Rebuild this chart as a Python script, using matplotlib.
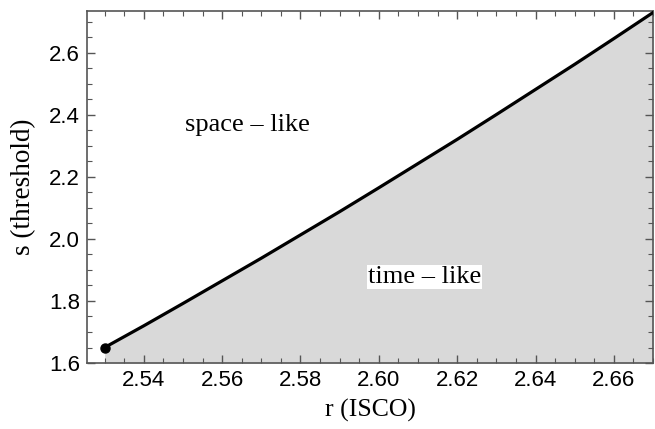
import matplotlib.pyplot as plt
from matplotlib.ticker import MultipleLocator

# ISCO radius vs threshold spin
r_isco = [2.53, 2.54, 2.55, 2.56, 2.57, 2.58, 2.59, 2.60,
          2.61, 2.62, 2.63, 2.64, 2.65, 2.66, 2.67]
s_threshold = [1.650, 1.720, 1.792, 1.865, 1.938, 2.013, 2.088, 2.165,
               2.243, 2.321, 2.401, 2.482, 2.563, 2.646, 2.730]

region_labels = ['space \u2013 like', 'time \u2013 like']
region_pos = [(2.5665, 2.368), (2.6116, 1.877)]

fig = plt.figure(figsize=(6.55, 4.29), dpi=100)
ax = fig.add_axes([0.1328, 0.1538, 0.8642, 0.8206])

ax.fill_between(r_isco, s_threshold, 1.6, color='#d9d9d9', lw=0, zorder=1)
ax.plot(r_isco, s_threshold, color='black', lw=2.3, zorder=3)
ax.plot(r_isco[0], s_threshold[0], 'o', color='black', ms=6.5, zorder=4)

ax.set_xlim(2.5255, 2.67)
ax.set_ylim(1.6, 2.735)

ax.xaxis.set_major_locator(MultipleLocator(0.02))
ax.xaxis.set_minor_locator(MultipleLocator(0.005))
ax.yaxis.set_major_locator(MultipleLocator(0.2))
ax.yaxis.set_minor_locator(MultipleLocator(0.05))
ax.xaxis.set_major_formatter(plt.FuncFormatter(lambda v, p: f'{v:.2f}'))
ax.yaxis.set_major_formatter(plt.FuncFormatter(lambda v, p: f'{v:.1f}'))

ax.tick_params(which='both', direction='in', top=True, right=True,
               color='#555555', labelsize=16, labelcolor='black', pad=5)
ax.tick_params(which='major', length=6, width=1)
ax.tick_params(which='minor', length=3.5, width=0.8)
for lab in ax.get_xticklabels() + ax.get_yticklabels():
    lab.set_family('Liberation Sans')
for sp in ax.spines.values():
    sp.set_color('#555555')
    sp.set_linewidth(1.2)

ax.set_xlabel('r (ISCO)', family='Liberation Serif', fontsize=18.5, labelpad=6)
ax.set_ylabel('s (threshold)', family='Liberation Serif', fontsize=19.5, labelpad=9)

ax.text(*region_pos[0], region_labels[0], family='Liberation Serif', fontsize=19,
        ha='center', va='center', zorder=5)
ax.text(*region_pos[1], region_labels[1], family='Liberation Serif', fontsize=19,
        ha='center', va='center', zorder=5,
        bbox=dict(facecolor='white', edgecolor='none', pad=0.5))

fig.savefig('out.png', dpi=100)
